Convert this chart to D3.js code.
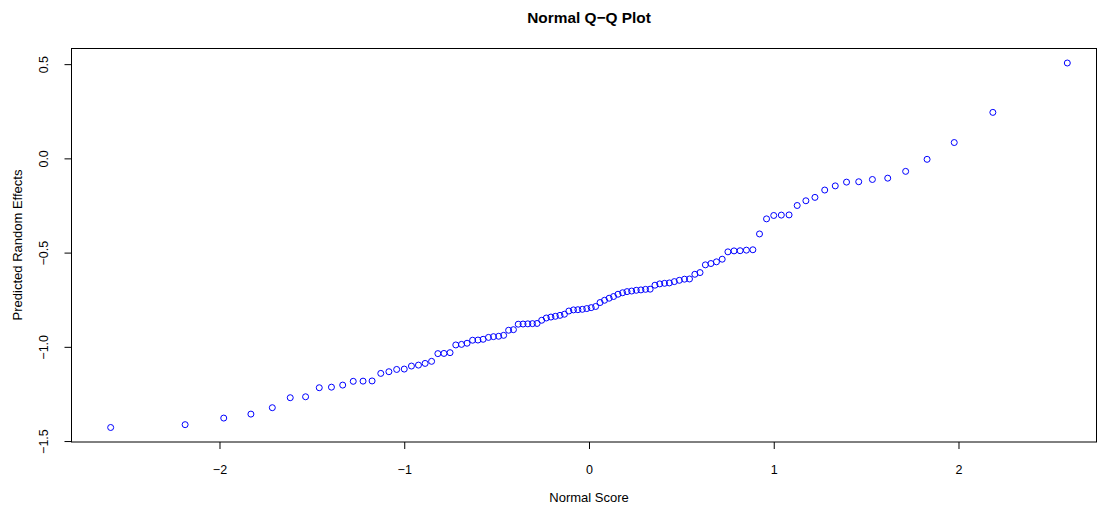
<!DOCTYPE html>
<html>
<head>
<meta charset="utf-8">
<script src="https://cdn.jsdelivr.net/npm/d3@7"></script>
<style>
  body { margin: 0; background: #fff; }
  text { font-family: "Liberation Sans", Arial, Helvetica, sans-serif; fill: #000; }
</style>
</head>
<body>
<svg id="chart"></svg>
<script>
// normal scores (theoretical quantiles), one per random effect
var normalScore = [-2.589,-2.186,-1.977,-1.830,-1.714,-1.617,-1.534,-1.460,-1.394,-1.333,
  -1.276,-1.223,-1.174,-1.127,-1.083,-1.041,-1.000,-0.961,-0.923,-0.887,
  -0.852,-0.818,-0.785,-0.752,-0.721,-0.690,-0.660,-0.630,-0.601,-0.573,
  -0.544,-0.517,-0.489,-0.462,-0.435,-0.409,-0.383,-0.357,-0.331,-0.306,
  -0.281,-0.256,-0.231,-0.206,-0.182,-0.157,-0.133,-0.109,-0.084,-0.060,
  -0.036,-0.012,0.012,0.036,0.060,0.084,0.109,0.133,0.157,0.182,
  0.206,0.231,0.256,0.281,0.306,0.331,0.357,0.383,0.409,0.435,
  0.462,0.489,0.517,0.544,0.573,0.601,0.630,0.660,0.690,0.721,
  0.752,0.785,0.818,0.852,0.887,0.923,0.961,1.000,1.041,1.083,
  1.127,1.174,1.223,1.276,1.333,1.394,1.460,1.534,1.617,1.714,
  1.830,1.977,2.186,2.589];

// sorted predicted random effects
var randomEffects = [-1.428,-1.413,-1.378,-1.357,-1.323,-1.270,-1.265,-1.217,-1.214,-1.203,
  -1.183,-1.182,-1.181,-1.141,-1.132,-1.120,-1.118,-1.102,-1.097,-1.088,
  -1.077,-1.036,-1.035,-1.031,-0.990,-0.987,-0.981,-0.965,-0.964,-0.960,
  -0.950,-0.946,-0.944,-0.939,-0.912,-0.909,-0.880,-0.879,-0.878,-0.877,
  -0.876,-0.859,-0.847,-0.842,-0.838,-0.833,-0.827,-0.810,-0.804,-0.803,
  -0.801,-0.797,-0.792,-0.786,-0.765,-0.753,-0.742,-0.733,-0.721,-0.713,
  -0.707,-0.704,-0.700,-0.698,-0.695,-0.694,-0.673,-0.666,-0.663,-0.661,
  -0.654,-0.647,-0.641,-0.640,-0.615,-0.606,-0.565,-0.558,-0.549,-0.535,
  -0.496,-0.491,-0.490,-0.487,-0.485,-0.401,-0.321,-0.303,-0.301,-0.300,
  -0.250,-0.225,-0.207,-0.168,-0.146,-0.126,-0.124,-0.112,-0.105,-0.069,
  -0.005,0.084,0.244,0.506];

var xTicks = [-2, -1, 0, 1, 2];
var yTicks = [-1.5, -1.0, -0.5, 0.0, 0.5];

// canvas + plot box
var width = 1099,
    height = 510,
    box = {left: 71.5, right: 1096.5, top: 48.5, bottom: 442};

var svg = d3.select("#chart")
    .attr("width", width)
    .attr("height", height);

var x = d3.scaleLinear()
    .domain([-2.801, 2.747])
    .range([box.left, box.right]);

var y = d3.scaleLinear()
    .domain([-1.505, 0.583])
    .range([box.bottom, box.top]);

var points = normalScore.map(function(d, i) { return {x: d, y: randomEffects[i]}; });

// title
svg.append("text")
    .attr("x", 589)
    .attr("y", 23)
    .style("text-anchor", "middle")
    .style("font-weight", "bold")
    .style("font-size", "15.4px")
    .text("Normal Q\u2212Q Plot");

// x axis
var xAxis = svg.append("g")
    .attr("transform", "translate(0," + box.bottom + ")")
    .call(d3.axisBottom(x).tickValues(xTicks).tickFormat(d3.format("d")).tickSize(7).tickSizeOuter(0));
xAxis.select(".domain").remove();
xAxis.selectAll("line").attr("stroke", "#000");
xAxis.selectAll("text")
    .attr("y", 32)
    .attr("dy", null)
    .style("font-size", "12.5px")
    .style("font-family", "'Liberation Sans', Arial, sans-serif");

// y axis, labels turned like R's default
var yAxis = svg.append("g")
    .attr("transform", "translate(" + box.left + ",0)")
    .call(d3.axisLeft(y).tickValues(yTicks).tickFormat(d3.format(".1f")).tickSize(7).tickSizeOuter(0));
yAxis.select(".domain").remove();
yAxis.selectAll("line").attr("stroke", "#000");
yAxis.selectAll("text")
    .attr("x", 0)
    .attr("y", -24)
    .attr("dy", null)
    .attr("transform", "rotate(-90)")
    .style("text-anchor", "middle")
    .style("font-size", "12.5px")
    .style("font-family", "'Liberation Sans', Arial, sans-serif");

// axis titles
svg.append("text")
    .attr("x", 589)
    .attr("y", 502)
    .style("text-anchor", "middle")
    .style("font-size", "13px")
    .text("Normal Score");

svg.append("text")
    .attr("transform", "translate(22,245) rotate(-90)")
    .style("text-anchor", "middle")
    .style("font-size", "13px")
    .text("Predicted Random Effects");

// frame
svg.append("rect")
    .attr("x", box.left)
    .attr("y", box.top)
    .attr("width", box.right - box.left)
    .attr("height", box.bottom - box.top)
    .style("fill", "none")
    .style("stroke", "#000")
    .style("stroke-width", 1);

// points (pch = 1)
svg.append("g")
  .selectAll("circle")
  .data(points)
  .enter().append("circle")
    .attr("cx", function(d) { return x(d.x); })
    .attr("cy", function(d) { return y(d.y); })
    .attr("r", 3)
    .style("fill", "none")
    .style("stroke", "#0000ff")
    .style("stroke-width", 1);
</script>
</body>
</html>
